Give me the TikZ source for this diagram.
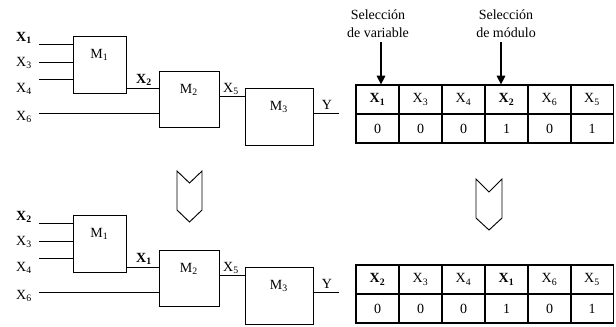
\documentclass[tikz,border=0pt]{standalone}
\usepackage{fontspec}
\setmainfont{Liberation Serif}
\usetikzlibrary{arrows.meta,calc}
\begin{document}
\begin{tikzpicture}[x=0.75pt,y=-0.75pt,
  wire/.style={line width=0.7pt},
  box/.style={draw,line width=0.7pt,inner sep=0pt},
  lab/.style={inner sep=0pt,font=\fontsize{10.5}{12}\selectfont},
  cell/.style={draw,line width=0.9pt,inner sep=0pt,minimum width=32.25pt,minimum height=21.75pt,font=\fontsize{10.5}{12}\selectfont},
  sel/.style={inner sep=0pt,align=center,font=\fontsize{10.5}{13.5}\selectfont},
  selarrow/.style={line width=0.8pt,-{Triangle[length=6.5pt,width=6.5pt]}},
  chev/.style={draw,line width=0.7pt}]
\useasboundingbox (0,0) rectangle (616,326);

% ---------- top circuit ----------
\node[box,minimum width=39.75pt,minimum height=42.75pt] (m1) at (99.5,64.5) {};
\node[box,minimum width=45pt,minimum height=42pt] (m2) at (189,99) {};
\node[box,minimum width=51pt,minimum height=42.75pt] (m3) at (279,116.5) {};
\node[lab] (m1t) at (99.5,55) {M\textsubscript{1}};
\node[lab] (m2t) at (189,90) {M\textsubscript{2}};
\node[lab] (m3t) at (279,107) {M\textsubscript{3}};
\coordinate (i1) at (39,44);
\coordinate (i2) at (39,62);
\coordinate (i3) at (39,79);
\coordinate (i4) at (39,113);
\coordinate (yo) at (339,113.5);
\coordinate (p1) at (126,88);
\coordinate (p2) at (219,96);
\draw[wire] (i1) -- (i1 -| m1.west);
\draw[wire] (i2) -- (i2 -| m1.west);
\draw[wire] (i3) -- (i3 -| m1.west);
\draw[wire] (i4) -- (i4 -| m2.west);
\draw[wire] (p1 -| m1.east) -- (p1 -| m2.west);
\draw[wire] (p2 -| m2.east) -- (p2 -| m3.west);
\draw[wire] (yo -| m3.east) -- (yo);
\node[lab] (l1) at (24,38) {\textbf{X\textsubscript{1}}};
\node[lab] (l3) at (24,63) {X\textsubscript{3}};
\node[lab] (l4) at (24,89) {X\textsubscript{4}};
\node[lab] (l6) at (24,117) {X\textsubscript{6}};
\node[lab] (l2) at (144,80) {\textbf{X\textsubscript{2}}};
\node[lab] (l5) at (231,89) {X\textsubscript{5}};
\node[lab] (ly) at (327,105) {Y};

% ---------- bottom circuit ----------
\begin{scope}[yshift=-179*0.75pt]
\node[box,minimum width=39.75pt,minimum height=42.75pt] (n1) at (99.5,64.5) {};
\node[box,minimum width=45pt,minimum height=42pt] (n2) at (189,99) {};
\node[box,minimum width=51pt,minimum height=42.75pt] (n3) at (279,116.5) {};
\node[lab] (n1t) at (99.5,55) {M\textsubscript{1}};
\node[lab] (n2t) at (189,90) {M\textsubscript{2}};
\node[lab] (n3t) at (279,107) {M\textsubscript{3}};
\coordinate (j1) at (39,44);
\coordinate (j2) at (39,62);
\coordinate (j3) at (39,79);
\coordinate (j4) at (39,113);
\coordinate (zo) at (339,113.5);
\coordinate (q1) at (126,88);
\coordinate (q2) at (219,96);
\draw[wire] (j1) -- (j1 -| n1.west);
\draw[wire] (j2) -- (j2 -| n1.west);
\draw[wire] (j3) -- (j3 -| n1.west);
\draw[wire] (j4) -- (j4 -| n2.west);
\draw[wire] (q1 -| n1.east) -- (q1 -| n2.west);
\draw[wire] (q2 -| n2.east) -- (q2 -| n3.west);
\draw[wire] (zo -| n3.east) -- (zo);
\node[lab] (k2) at (24,38) {\textbf{X\textsubscript{2}}};
\node[lab] (k3) at (24,63) {X\textsubscript{3}};
\node[lab] (k4) at (24,89) {X\textsubscript{4}};
\node[lab] (k6) at (24,117) {X\textsubscript{6}};
\node[lab] (k1) at (144,80) {\textbf{X\textsubscript{1}}};
\node[lab] (k5) at (231,89) {X\textsubscript{5}};
\node[lab] (ky) at (327,105) {Y};
\end{scope}

% ---------- top table ----------
\node[cell] (a1) at (377.5,99.5) {\textbf{X\textsubscript{1}}};
\node[cell] (a2) at (420.5,99.5) {X\textsubscript{3}};
\node[cell] (a3) at (463.5,99.5) {X\textsubscript{4}};
\node[cell] (a4) at (506.5,99.5) {\textbf{X\textsubscript{2}}};
\node[cell] (a5) at (549.5,99.5) {X\textsubscript{6}};
\node[cell] (a6) at (592,99.5) {X\textsubscript{5}};
\node[cell] (b1) at (377.5,128.5) {0};
\node[cell] (b2) at (420.5,128.5) {0};
\node[cell] (b3) at (463.5,128.5) {0};
\node[cell] (b4) at (506.5,128.5) {1};
\node[cell] (b5) at (549.5,128.5) {0};
\node[cell] (b6) at (592,128.5) {1};

\node[sel] (s1) at (378,24) {Selección\\de variable};
\node[sel] (s2) at (506,24) {Selección\\de módulo};
\coordinate (r1) at (381,42);
\coordinate (r2) at (501,42);
\draw[selarrow] (r1) -- (r1 |- a1.north);
\draw[selarrow] (r2) -- (r2 |- a4.north);

% ---------- bottom table ----------
\node[cell] (c1) at (377.5,279.5) {\textbf{X\textsubscript{2}}};
\node[cell] (c2) at (420.5,279.5) {X\textsubscript{3}};
\node[cell] (c3) at (463.5,279.5) {X\textsubscript{4}};
\node[cell] (c4) at (506.5,279.5) {\textbf{X\textsubscript{1}}};
\node[cell] (c5) at (549.5,279.5) {X\textsubscript{6}};
\node[cell] (c6) at (592,279.5) {X\textsubscript{5}};
\node[cell] (d1) at (377.5,308.5) {0};
\node[cell] (d2) at (420.5,308.5) {0};
\node[cell] (d3) at (463.5,308.5) {0};
\node[cell] (d4) at (506.5,308.5) {1};
\node[cell] (d5) at (549.5,308.5) {0};
\node[cell] (d6) at (592,308.5) {1};

% ---------- chevrons ----------
\draw[chev] (177,171) -- (189.5,183) -- (202,171) -- (202,210) -- (189.5,222) -- (177,210) -- cycle;
\draw[chev] (476,179) -- (489,192) -- (502,179) -- (502,218) -- (489,230) -- (476,218) -- cycle;
\end{tikzpicture}
\end{document}
